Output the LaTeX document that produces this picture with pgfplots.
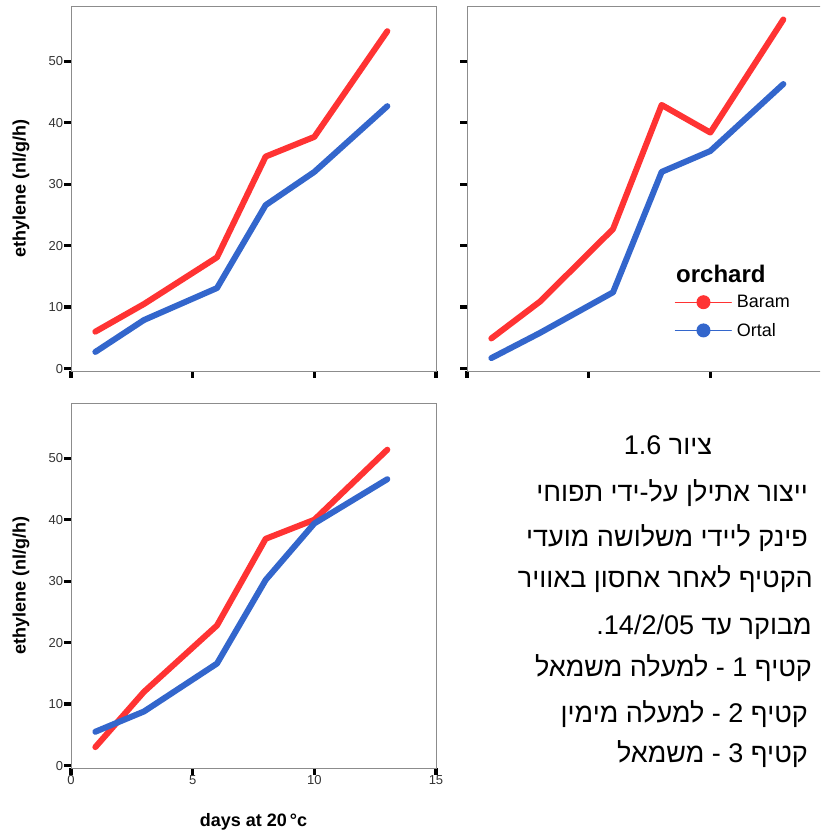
\documentclass[border=0pt]{standalone}
\usepackage{fontspec}
\setmainfont{Liberation Sans}
\newfontfamily\hebfont[Script=Hebrew]{Liberation Sans}
\usepackage{pgfplots}
\pgfplotsset{compat=1.18}
\TeXXeTstate=1

\definecolor{cred}{HTML}{FF3333}
\definecolor{cblue}{HTML}{3366CC}
\definecolor{framec}{HTML}{8C8C8C}
\definecolor{ticklab}{HTML}{333333}

\pgfplotsset{
 base/.style={
  scale only axis, width=365pt, height=365pt,
  xmin=0, xmax=15, ymin=-0.4, ymax=59,
  xtick={0,5,10,15}, ytick={0,10,20,30,40,50},
  tick pos=left, tick align=outside,
  major tick length=7pt,
  tick style={black, line width=3.2pt},
  axis line style={framec, line width=0.9pt},
  /pgf/number format/assume math mode=true,
  ticklabel style={font=\fontsize{13}{15}\selectfont, text=ticklab, inner sep=0.6pt},
  label style={font=\bfseries\fontsize{18}{21}\selectfont},
  every axis plot/.append style={line width=6pt, line cap=round, line join=round, mark=none},
 }
}

\begin{document}
\begin{tikzpicture}
\path[use as bounding box, clip] (0pt,0pt) rectangle (820pt,836pt);

% top-left
\begin{axis}[base, at={(71pt,465pt)}, anchor=south west,
  xticklabels={},
  ylabel={ethylene (nl/g/h)},
  ylabel style={at={(axis description cs:-0.1370,0.5)}, anchor=center}]
\addplot[cred] coordinates {(1,6.0)(3,10.5)(6,18.1)(8,34.5)(10,37.7)(13,54.9)};
\addplot[cblue] coordinates {(1,2.7)(3,7.9)(6,13.1)(8,26.6)(10,32.0)(13,42.7)};
\end{axis}

% top-right
\begin{axis}[base, at={(467pt,465pt)}, anchor=south west,
  xticklabels={}, yticklabels={},
  legend style={at={(axis description cs:0.561,0.219)}, anchor=north west,
    draw=none, fill=none, font=\fontsize{18}{20}\selectfont,
    row sep=10pt, cells={anchor=west},
    /tikz/every odd column/.append style={column sep=3pt}},
  legend image code/.code={
    \draw[#1, line width=1pt] (0pt,0pt) -- (56pt,0pt);
    \path[#1, draw=none, fill] (28pt,0pt) circle (7pt);}
  ]
\addplot[cred] coordinates {(1,4.9)(3,10.9)(6,22.7)(8,42.9)(10,38.4)(13,56.8)};
\addplot[cblue] coordinates {(1,1.7)(3,5.8)(6,12.4)(8,32.0)(10,35.4)(13,46.3)};
\legend{Baram,Ortal}
\end{axis}
\node[anchor=base west, font=\bfseries\fontsize{24}{28}\selectfont, inner sep=0pt] at (676pt,553pt) {orchard};

% bottom-left
\begin{axis}[base, at={(71pt,68pt)}, anchor=south west,
  ylabel={ethylene (nl/g/h)},
  ylabel style={at={(axis description cs:-0.1370,0.5)}, anchor=center},
  xlabel={days at 20\hspace{3pt}°c},
  xlabel style={at={(axis description cs:0.5,-0.148)}, anchor=center}]
\addplot[cred] coordinates {(1,3.0)(3,12.0)(6,22.8)(8,36.9)(10,40.0)(13,51.4)};
\addplot[cblue] coordinates {(1,5.5)(3,8.8)(6,16.6)(8,30.2)(10,39.4)(13,46.6)};
\end{axis}

% Hebrew caption
\begin{scope}[every node/.style={inner sep=0pt, font=\hebfont\fontsize{27}{31}\selectfont}]
\node[anchor=base] at (668pt,381pt) {\beginR ציור \beginL 1.6\endL\endR};
\node[anchor=base east] at (808pt,334pt) {\beginR ייצור אתילן על-ידי תפוחי\endR};
\node[anchor=base east] at (808pt,289pt) {\beginR פינק ליידי משלושה מועדי\endR};
\node[anchor=base east] at (813pt,248pt) {\beginR הקטיף לאחר אחסון באוויר\endR};
\node[anchor=base east] at (812pt,201pt) {\beginR מבוקר עד \beginL 14/2/05\endL.\endR};
\node[anchor=base east] at (812pt,159pt) {\beginR קטיף \beginL 1\endL{} - למעלה משמאל\endR};
\node[anchor=base east] at (808pt,113pt) {\beginR קטיף \beginL 2\endL{} - למעלה מימין\endR};
\node[anchor=base east] at (808pt,73pt) {\beginR קטיף \beginL 3\endL{} - משמאל\endR};
\end{scope}
\end{tikzpicture}
\end{document}
